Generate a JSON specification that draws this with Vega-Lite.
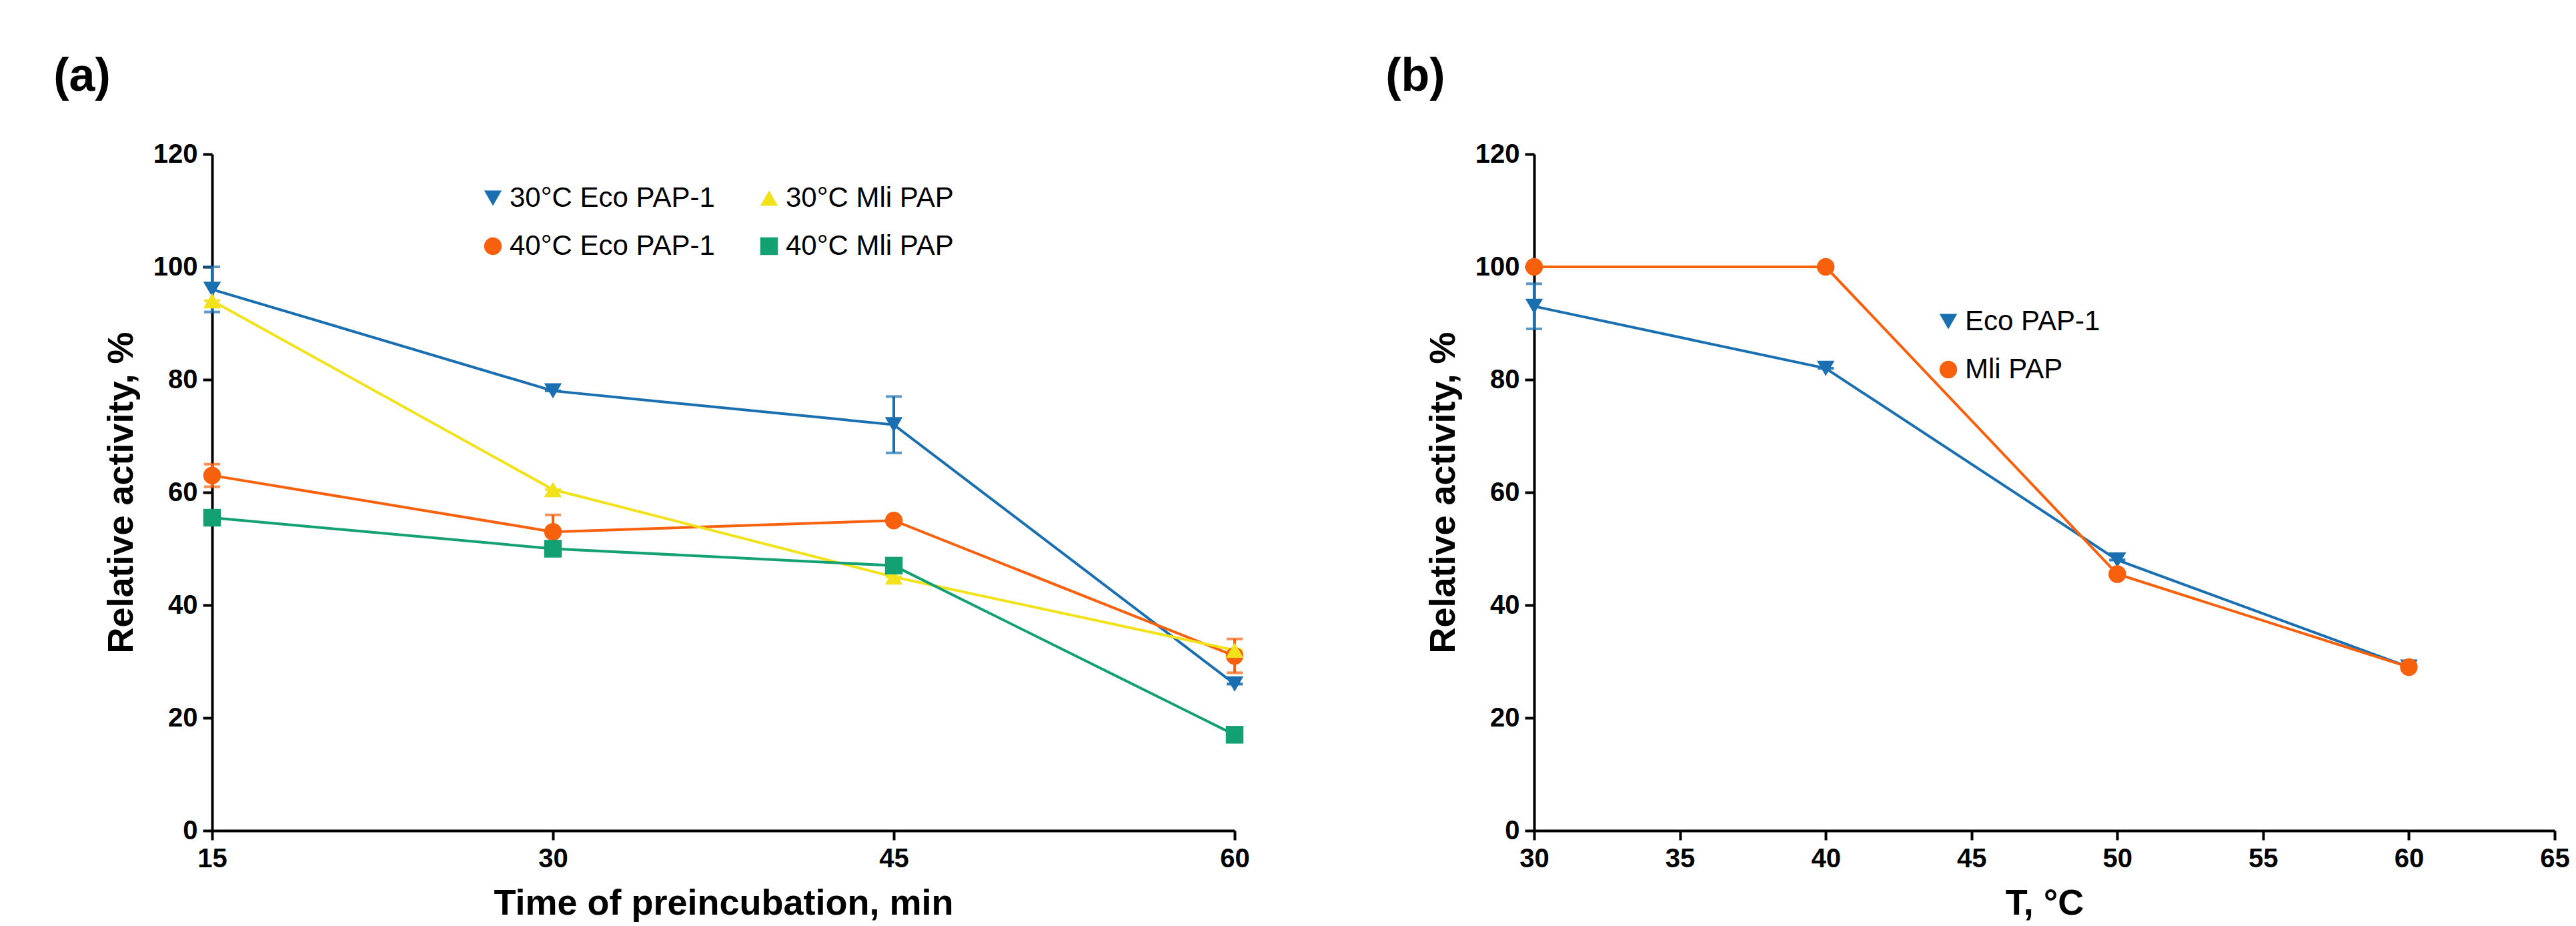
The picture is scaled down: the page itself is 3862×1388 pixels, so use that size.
{
  "$schema": "https://vega.github.io/schema/vega-lite/v6.json",
  "background": "white",
  "padding": {"left": 80, "top": 80, "right": 20, "bottom": 10},
  "config": {
    "font": "Liberation Sans",
    "view": {"stroke": null},
    "axis": {
      "grid": false, "domainColor": "black", "domainWidth": 4, "tickColor": "black", "tickWidth": 4, "tickSize": 14, "labelFlush": false,
      "labelFontSize": 40, "labelFontWeight": "bold", "labelColor": "black", "labelPadding": 8,
      "titleFontSize": 54, "titleFontWeight": "bold", "titleColor": "black"
    },
    "legend": {"labelFontSize": 42, "labelColor": "black", "symbolSize": 700, "symbolStrokeWidth": 0, "symbolOpacity": 1, "rowPadding": 30, "columnPadding": 60, "labelLimit": 600}
  },
  "datasets": {
    "a": [
      {"t": 15, "s": "30°C Eco PAP-1", "v": 96, "e": 4},
      {"t": 30, "s": "30°C Eco PAP-1", "v": 78, "e": 0},
      {"t": 45, "s": "30°C Eco PAP-1", "v": 72, "e": 5},
      {"t": 60, "s": "30°C Eco PAP-1", "v": 26, "e": 0},
      {"t": 15, "s": "40°C Eco PAP-1", "v": 63, "e": 2},
      {"t": 30, "s": "40°C Eco PAP-1", "v": 53, "e": 3},
      {"t": 45, "s": "40°C Eco PAP-1", "v": 55, "e": 0},
      {"t": 60, "s": "40°C Eco PAP-1", "v": 31, "e": 3},
      {"t": 15, "s": "30°C Mli PAP", "v": 94, "e": 0},
      {"t": 30, "s": "30°C Mli PAP", "v": 60.5, "e": 0},
      {"t": 45, "s": "30°C Mli PAP", "v": 45, "e": 0},
      {"t": 60, "s": "30°C Mli PAP", "v": 32, "e": 0},
      {"t": 15, "s": "40°C Mli PAP", "v": 55.5, "e": 0},
      {"t": 30, "s": "40°C Mli PAP", "v": 50, "e": 0},
      {"t": 45, "s": "40°C Mli PAP", "v": 47, "e": 0},
      {"t": 60, "s": "40°C Mli PAP", "v": 17, "e": 0}
    ],
    "b": [
      {"t": 30, "s": "Eco PAP-1", "v": 93, "e": 4},
      {"t": 40, "s": "Eco PAP-1", "v": 82, "e": 0},
      {"t": 50, "s": "Eco PAP-1", "v": 48, "e": 0},
      {"t": 60, "s": "Eco PAP-1", "v": 29, "e": 0},
      {"t": 30, "s": "Mli PAP", "v": 100, "e": 0},
      {"t": 40, "s": "Mli PAP", "v": 100, "e": 0},
      {"t": 50, "s": "Mli PAP", "v": 45.5, "e": 0},
      {"t": 60, "s": "Mli PAP", "v": 29, "e": 0}
    ]
  },
  "hconcat": [
    {
      "width": 1533, "height": 1014,
      "title": {"text": "(a)", "fontSize": 70, "fontWeight": "bold", "anchor": "start", "frame": "bounds", "dx": -75, "offset": 60, "color": "black"},
      "data": {"name": "a"},
      "encoding": {
        "x": {"field": "t", "type": "quantitative", "title": "Time of preincubation, min", "scale": {"domain": [15, 60], "nice": false}, "axis": {"values": [15, 30, 45, 60], "titlePadding": 20}},
        "y": {"field": "v", "type": "quantitative", "title": "Relative activity, %", "scale": {"domain": [0, 120], "nice": false}, "axis": {"values": [0, 20, 40, 60, 80, 100, 120], "titlePadding": 20}},
        "color": {"field": "s", "type": "nominal", "title": null,
          "scale": {"domain": ["30°C Eco PAP-1", "30°C Mli PAP", "40°C Eco PAP-1", "40°C Mli PAP"], "range": ["#1a6fb0", "#f2e21b", "#f7600d", "#13a073"]},
          "legend": {"orient": "none", "legendX": 400, "legendY": 45, "columns": 2, "direction": "horizontal"}}
      },
      "layer": [
        {"mark": {"type": "line", "strokeWidth": 4}},
        {"mark": {"type": "errorbar", "ticks": {"size": 24, "thickness": 4}, "thickness": 4}, "encoding": {"yError": {"field": "e"}}},
        {"mark": {"type": "point", "filled": true, "size": 700, "opacity": 1},
          "encoding": {"shape": {"field": "s", "type": "nominal", "title": null,
            "scale": {"domain": ["30°C Eco PAP-1", "30°C Mli PAP", "40°C Eco PAP-1", "40°C Mli PAP"], "range": ["triangle-down", "triangle-up", "circle", "square"]}}}}
      ]
    },
    {
      "width": 1530, "height": 1014,
      "title": {"text": "(b)", "fontSize": 70, "fontWeight": "bold", "anchor": "start", "frame": "bounds", "dx": -60, "offset": 60, "color": "black"},
      "data": {"name": "b"},
      "encoding": {
        "x": {"field": "t", "type": "quantitative", "title": "T, °C", "scale": {"domain": [30, 65], "nice": false}, "axis": {"values": [30, 35, 40, 45, 50, 55, 60, 65], "titlePadding": 20}},
        "y": {"field": "v", "type": "quantitative", "title": "Relative activity, %", "scale": {"domain": [0, 120], "nice": false}, "axis": {"values": [0, 20, 40, 60, 80, 100, 120], "titlePadding": 20}},
        "color": {"field": "s", "type": "nominal", "title": null,
          "scale": {"domain": ["Eco PAP-1", "Mli PAP"], "range": ["#1a6fb0", "#f7600d"]},
          "legend": {"orient": "none", "legendX": 600, "legendY": 230}}
      },
      "layer": [
        {"mark": {"type": "line", "strokeWidth": 4}},
        {"mark": {"type": "errorbar", "ticks": {"size": 24, "thickness": 4}, "thickness": 4}, "encoding": {"yError": {"field": "e"}}},
        {"mark": {"type": "point", "filled": true, "size": 700, "opacity": 1},
          "encoding": {"shape": {"field": "s", "type": "nominal", "title": null,
            "scale": {"domain": ["Eco PAP-1", "Mli PAP"], "range": ["triangle-down", "circle"]}}}}
      ]
    }
  ],
  "spacing": 203,
  "resolve": {"scale": {"color": "independent", "shape": "independent"}, "legend": {"color": "independent", "shape": "independent"}}
}
